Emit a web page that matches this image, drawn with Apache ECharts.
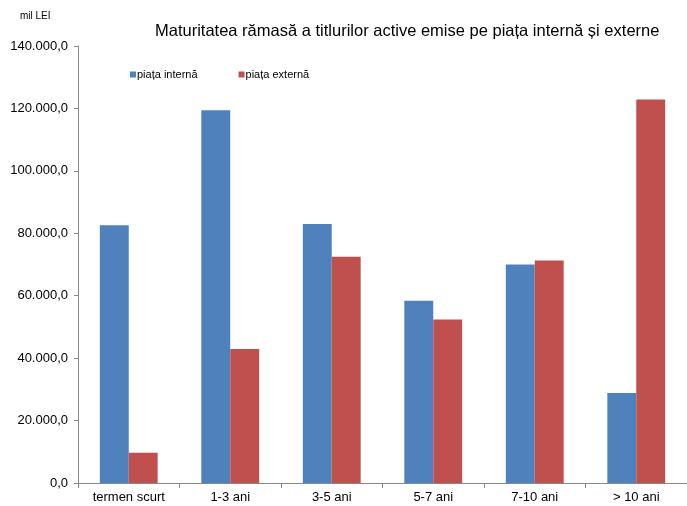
<!DOCTYPE html>
<html>
<head>
<meta charset="utf-8">
<script src="https://cdn.jsdelivr.net/npm/echarts@6/dist/echarts.min.js"></script>
<style>
  html, body { margin: 0; padding: 0; background: #fff; }
  #chart { width: 687px; height: 506px; }
</style>
</head>
<body>
<div id="chart"></div>
<script>
// maturitatea ramasa (mil LEI)
var categories = ['termen scurt', '1-3 ani', '3-5 ani', '5-7 ani', '7-10 ani', '> 10 ani'];
var piataInterna = [82600, 119400, 83000, 58400, 70000, 28800];
var piataExterna = [9700, 42900, 72500, 52400, 71300, 122900];

var FONT = '"Liberation Sans", Arial, sans-serif';

// 140000 -> "140.000,0"
function fmt(v) {
    var s = String(Math.round(v)).replace(/\B(?=(\d{3})+(?!\d))/g, '.');
    return s + ',0';
}

var chart = echarts.init(document.getElementById('chart'));

chart.setOption({
    backgroundColor: '#fff',
    animation: false,
    title: [{
        text: 'Maturitatea rămasă a titlurilor active emise pe piața internă și externe',
        left: 155,
        top: 23,
        padding: 0,
        textStyle: { fontFamily: FONT, fontSize: 16.5, fontWeight: 'normal', color: '#000' }
    }, {
        text: 'mil LEI',
        left: 20,
        top: 11,
        padding: 0,
        textStyle: { fontFamily: FONT, fontSize: 10, fontWeight: 'normal', color: '#000' }
    }],
    legend: {
        left: 125,
        top: 64,
        itemWidth: 6,
        itemHeight: 6,
        itemGap: 41,
        icon: 'rect',
        textStyle: { fontFamily: FONT, fontSize: 11, color: '#000', padding: [0, 0, 0, -4] },
        data: ['piața internă', 'piața externă']
    },
    grid: {
        left: 78,
        right: 0,
        top: 46,
        bottom: 23
    },
    xAxis: {
        type: 'category',
        data: categories,
        axisLine: { lineStyle: { color: '#888', width: 1 } },
        axisTick: { show: true, length: 5, lineStyle: { color: '#888' } },
        axisLabel: { fontFamily: FONT, fontSize: 13, color: '#000', margin: 8 }
    },
    yAxis: {
        type: 'value',
        min: 0,
        max: 140000,
        interval: 20000,
        axisLine: { show: true, lineStyle: { color: '#888', width: 1 } },
        axisTick: { show: true, length: 4, lineStyle: { color: '#888' } },
        splitLine: { show: false },
        axisLabel: {
            fontFamily: FONT, fontSize: 13, color: '#000', margin: 10,
            formatter: fmt
        }
    },
    series: [{
        name: 'piața internă',
        type: 'bar',
        data: piataInterna,
        barGap: 0,
        barCategoryGap: '43%',
        itemStyle: { color: '#4F81BD' }
    }, {
        name: 'piața externă',
        type: 'bar',
        data: piataExterna,
        barGap: 0,
        barCategoryGap: '43%',
        itemStyle: { color: '#C0504D' }
    }]
});
</script>
</body>
</html>
